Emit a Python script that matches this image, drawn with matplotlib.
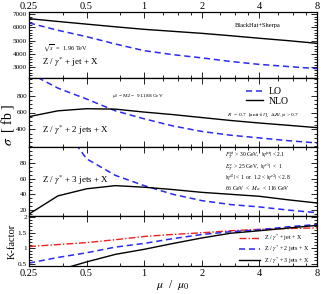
import matplotlib
matplotlib.use("Agg")
import matplotlib.pyplot as plt
import numpy as np
from matplotlib.ticker import FixedLocator, MultipleLocator, NullFormatter

plt.rcParams["font.family"] = ["Liberation Serif", "DejaVu Serif"]
plt.rcParams["mathtext.fontset"] = "stix"

# scale ratio mu/mu0
mu = [0.25, 0.354, 0.5, 0.707, 1.0, 1.414, 2.0, 2.83, 4.0, 5.66, 8.0]

# Z + 1 jet
nlo_1j = [6650, 6440, 6240, 6040, 5850, 5700, 5550, 5370, 5180, 5000, 4800]
lo_1j = [6330, 5780, 5300, 4750, 4250, 3950, 3710, 3440, 3220, 3060, 2900]

# Z + 2 jets
nlo_2j = [551, 620, 645, 640, 605, 575, 540, 505, 475, 448, 420]
lo_2j = [1070, 890, 760, 620, 525, 440, 375, 330, 298, 265, 238]

# Z + 3 jets
nlo_3j = [15, 38, 47, 51, 49, 46, 42.5, 40, 37.5, 33, 29]
lo_3j = [200, 135, 85, 64, 51, 40, 32, 27, 24, 20, 16.7]

xticks = [0.25, 0.5, 1, 2, 4, 8]
xticklabels = ["0.25", "0.5", "1", "2", "4", "8"]
xminor = [0.375, 0.75, 1.25, 1.5, 1.75, 2.5, 3, 3.5, 5, 6, 7]

BLUE = "#2a2af0"
RED = "#ee2020"
DASH = (0, (4, 2.5))

fig = plt.figure(figsize=(3.21, 2.94), dpi=100)
gs = fig.add_gridspec(4, 1, height_ratios=[66, 69, 69, 50], hspace=0,
                      left=29/321, right=317/321, top=1-12/294, bottom=1-266/294)
axes = [fig.add_subplot(gs[i]) for i in range(4)]

for ax in axes:
    ax.set_xscale("log")
    ax.set_xlim(0.25, 8)
    ax.xaxis.set_major_locator(FixedLocator(xticks))
    ax.xaxis.set_minor_locator(FixedLocator(xminor))
    ax.xaxis.set_minor_formatter(NullFormatter())
    ax.tick_params(which="both", direction="in", top=True, right=True,
                   labelsize=5.2, width=0.6, pad=1.5)
    ax.tick_params(which="major", length=4)
    ax.tick_params(which="minor", length=2)
    for s in ax.spines.values():
        s.set_linewidth(0.9)
    ax.set_xticklabels([])

# top panel carries x labels on top, K panel on bottom
axes[0].tick_params(axis="x", labeltop=True, labelbottom=False, labelsize=7.5, pad=1)
axes[0].set_xticklabels(xticklabels)
axes[3].tick_params(axis="x", labelbottom=True, labelsize=7.5, pad=2)
axes[3].set_xticklabels(xticklabels)

# panel 1
ax = axes[0]
ax.plot(mu, lo_1j, color=BLUE, lw=1.1, ls=DASH)
ax.plot(mu, nlo_1j, color="black", lw=1.0)
ax.set_ylim(2200, 7150)
ax.set_yticks([3000, 4000, 5000, 6000, 7000])
ax.yaxis.set_minor_locator(MultipleLocator(200))
ax.text(0.715, 0.80, "BlackHat+Sherpa", transform=ax.transAxes, fontsize=4.6,
        va="center")
ax.text(0.047, 0.45, r"$\sqrt{s}$  =  1.96 TeV", transform=ax.transAxes,
        fontsize=4.5, va="center")
ax.text(0.045, 0.24, r"Z / $\gamma^{*}$ + jet + X", transform=ax.transAxes,
        fontsize=6.5, va="center")

# panel 2
ax = axes[1]
ax.plot(mu, lo_2j, color=BLUE, lw=1.1, ls=DASH, label="LO")
ax.plot(mu, nlo_2j, color="black", lw=1.0, label="NLO")
ax.set_ylim(190, 1010)
ax.set_yticks([400, 600, 800])
ax.yaxis.set_minor_locator(MultipleLocator(50))
ax.legend(loc="center left", bbox_to_anchor=(0.755, 0.735), frameon=False,
          fontsize=7, handlelength=1.7, handletextpad=0.6, labelspacing=0.05,
          borderpad=0, borderaxespad=0)
ax.text(0.287, 0.74, r"$\mu_0$ = M$_Z$ =  91.188 GeV", transform=ax.transAxes,
        fontsize=3.8, va="center")
ax.text(0.686, 0.46, r"$R$  =  0.7  [anti-$k_T$],  $\Delta R_{\ell,\rm jet}$ > 0.7",
        transform=ax.transAxes, fontsize=3.9, va="center")
ax.text(0.045, 0.246, r"Z / $\gamma^{*}$ + 2 jets + X", transform=ax.transAxes,
        fontsize=6.5, va="center")

# panel 3
ax = axes[2]
ax.plot(mu, lo_3j, color=BLUE, lw=1.1, ls=DASH)
ax.plot(mu, nlo_3j, color="black", lw=1.0)
ax.set_ylim(12.5, 100)
ax.set_yticks([20, 40, 60, 80])
ax.yaxis.set_minor_locator(MultipleLocator(5))
cuts = [r"$P_T^{\rm jet}$ > 30 GeV,  $|\eta^{\rm jet}|$ < 2.1",
        r"$E_T^{e}$  > 25 GeV,  $|\eta^{e1}|$  <  1",
        r"$|\eta^{e2}|$ < 1  or  1.2 < $|\eta^{e2}|$ < 2.8",
        r"66 GeV  <  $M_{ee}$  < 116 GeV"]
for t, yy in zip(cuts, [0.884, 0.714, 0.555, 0.401]):
    ax.text(0.68, yy, t, transform=ax.transAxes, fontsize=4.1, va="center")
ax.text(0.045, 0.52, r"Z / $\gamma^{*}$ + 3 jets + X", transform=ax.transAxes,
        fontsize=6.5, va="center")

# K-factor panel
ax = axes[3]
k1 = np.array(nlo_1j) / np.array(lo_1j)
k2 = np.array(nlo_2j) / np.array(lo_2j)
k3 = np.array(nlo_3j) / np.array(lo_3j)
ax.plot(mu, k1, color=RED, lw=1.0, ls=(0, (5, 1.5, 1, 1.5)),
        label=r"Z / $\gamma^{*}$ + jet + X")
ax.plot(mu, k2, color=BLUE, lw=1.1, ls=DASH,
        label=r"Z / $\gamma^{*}$ + 2 jets + X")
ax.plot(mu, k3, color="black", lw=1.0, label=r"Z / $\gamma^{*}$ + 3 jets + X")
ax.set_ylim(0.42, 2.04)
ax.set_yticks([0.5, 1, 1.5, 2])
ax.set_yticklabels(["0.5", "1", "1.5", "2"])
ax.yaxis.set_minor_locator(MultipleLocator(0.1))
ax.legend(loc="center left", bbox_to_anchor=(0.73, 0.34), frameon=False,
          fontsize=4.3, handlelength=3.4, handletextpad=0.8, labelspacing=0.12,
          borderpad=0, borderaxespad=0)
ax.set_ylabel("K-factor", fontsize=7.5, labelpad=1)
ax.set_xlabel(r"$\mu$  /  $\mu_0$", fontsize=8.5, labelpad=0)

fig.text(0.022, 0.575, r"$\sigma$  [ fb ]", rotation=90, fontsize=10,
         ha="center", va="center")

fig.savefig("out.png", dpi=100)
